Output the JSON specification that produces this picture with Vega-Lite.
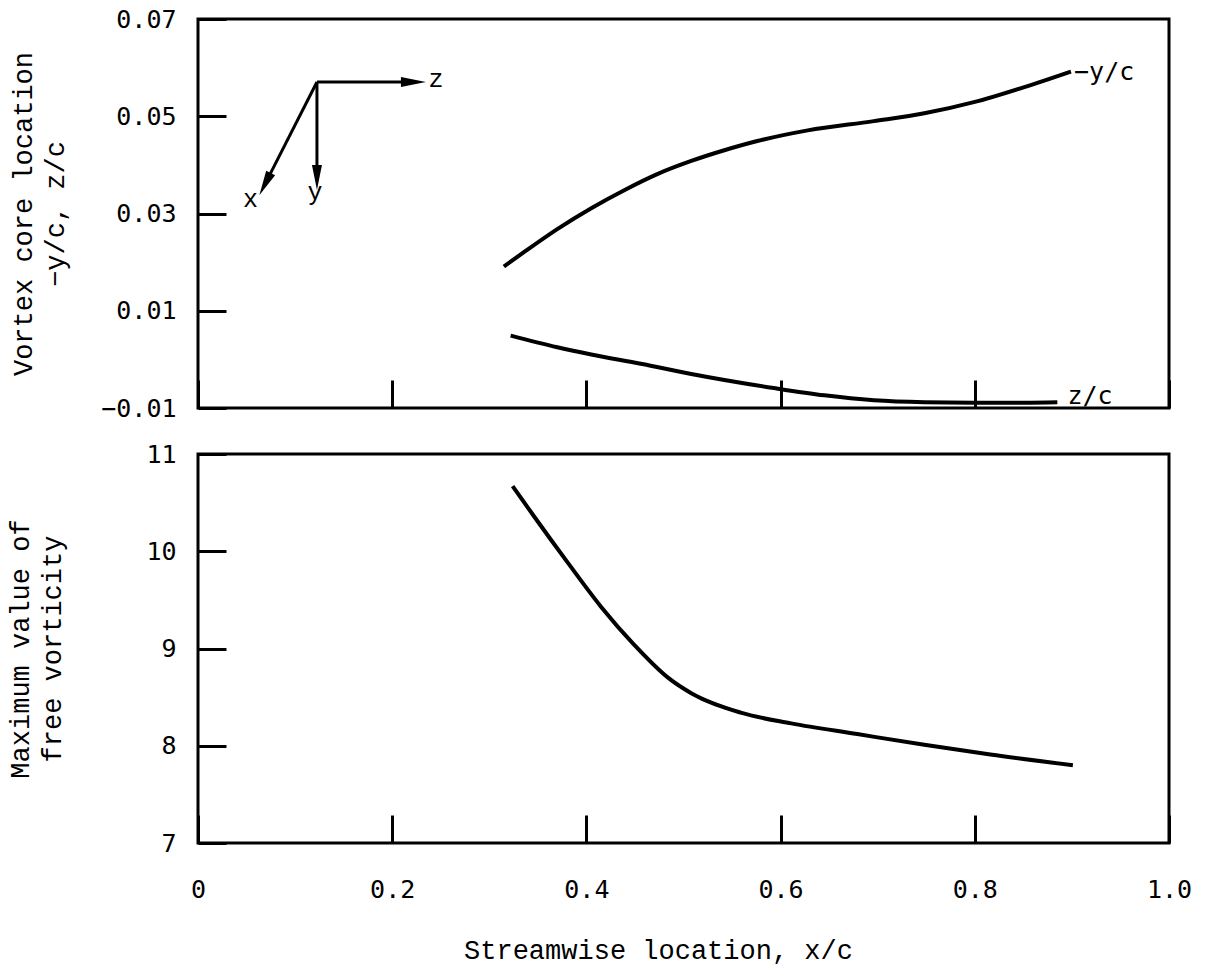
{
  "$schema": "https://vega.github.io/schema/vega-lite/v6.json",
  "background": "white",
  "padding": {"left": 5, "top": 5, "right": 5, "bottom": 5},
  "config": {
    "view": {"stroke": "black", "strokeWidth": 3},
    "axis": {
      "grid": false, "domain": false,
      "tickColor": "black", "tickWidth": 3, "tickSize": -28,
      "labelColor": "black", "labelFont": "DejaVu Sans Mono", "labelFontSize": 25,
      "titleFont": "Liberation Mono", "titleFontSize": 27, "titleFontWeight": "normal", "titleColor": "black",
      "labelFlush": false, "labelOverlap": false
    }
  },
  "datasets": {
    "core": [
      {"series": "-y/c", "x": 0.315, "y": 0.0191},
      {"series": "-y/c", "x": 0.336, "y": 0.0221},
      {"series": "-y/c", "x": 0.370, "y": 0.0268},
      {"series": "-y/c", "x": 0.405, "y": 0.0311},
      {"series": "-y/c", "x": 0.439, "y": 0.0348},
      {"series": "-y/c", "x": 0.473, "y": 0.0381},
      {"series": "-y/c", "x": 0.508, "y": 0.0408},
      {"series": "-y/c", "x": 0.542, "y": 0.0430},
      {"series": "-y/c", "x": 0.576, "y": 0.0449},
      {"series": "-y/c", "x": 0.628, "y": 0.0471},
      {"series": "-y/c", "x": 0.696, "y": 0.0490},
      {"series": "-y/c", "x": 0.748, "y": 0.0506},
      {"series": "-y/c", "x": 0.799, "y": 0.0529},
      {"series": "-y/c", "x": 0.851, "y": 0.0560},
      {"series": "-y/c", "x": 0.899, "y": 0.0592},
      {"series": "z/c", "x": 0.322, "y": 0.0049},
      {"series": "z/c", "x": 0.370, "y": 0.0025},
      {"series": "z/c", "x": 0.405, "y": 0.0010},
      {"series": "z/c", "x": 0.456, "y": -0.0009},
      {"series": "z/c", "x": 0.508, "y": -0.0030},
      {"series": "z/c", "x": 0.593, "y": -0.0059},
      {"series": "z/c", "x": 0.645, "y": -0.0074},
      {"series": "z/c", "x": 0.696, "y": -0.0084},
      {"series": "z/c", "x": 0.748, "y": -0.0088},
      {"series": "z/c", "x": 0.799, "y": -0.0089},
      {"series": "z/c", "x": 0.851, "y": -0.0089},
      {"series": "z/c", "x": 0.885, "y": -0.0088}
    ],
    "curveLabels": [
      {"t": "−y/c", "x": 0.9022, "y": 0.05745},
      {"t": "z/c", "x": 0.8954, "y": -0.00913}
    ],
    "axesRules": [
      {"axis": "z", "x": 0.1225, "y": 0.05704, "x2": 0.2219, "y2": 0.05704},
      {"axis": "y", "x": 0.1225, "y": 0.05704, "x2": 0.1225, "y2": 0.0374},
      {"axis": "x", "x": 0.1225, "y": 0.05704, "x2": 0.069, "y2": 0.03604}
    ],
    "heads": [
      {"axis": "z", "x": 0.2219, "y": 0.05704},
      {"axis": "y", "x": 0.1225, "y": 0.0374},
      {"axis": "x", "x": 0.069, "y": 0.03604}
    ],
    "letters": [
      {"t": "x", "x": 0.0540, "y": 0.03133},
      {"t": "y", "x": 0.1205, "y": 0.03277},
      {"t": "z", "x": 0.245, "y": 0.0560}
    ],
    "vort": [
      {"x": 0.324, "y": 10.67},
      {"x": 0.346, "y": 10.36},
      {"x": 0.381, "y": 9.88},
      {"x": 0.415, "y": 9.43},
      {"x": 0.449, "y": 9.04},
      {"x": 0.484, "y": 8.70},
      {"x": 0.508, "y": 8.54},
      {"x": 0.559, "y": 8.34},
      {"x": 0.611, "y": 8.23},
      {"x": 0.679, "y": 8.12},
      {"x": 0.748, "y": 8.01},
      {"x": 0.816, "y": 7.91},
      {"x": 0.901, "y": 7.80}
    ]
  },
  "spacing": 46,
  "bounds": "flush",
  "vconcat": [
    {
      "width": 971,
      "height": 389,
      "layer": [
        {
          "data": {"name": "core"},
          "mark": {"type": "line", "color": "black", "strokeWidth": 4, "interpolate": "monotone"},
          "encoding": {
            "x": {"field": "x", "type": "quantitative",
                  "scale": {"domain": [0, 1], "nice": false, "zero": false},
                  "axis": {"values": [0, 0.2, 0.4, 0.6, 0.8, 1.0], "labels": false, "title": null}},
            "y": {"field": "y", "type": "quantitative",
                  "scale": {"domain": [-0.01, 0.07], "nice": false, "zero": false},
                  "axis": {"values": [-0.01, 0.01, 0.03, 0.05, 0.07], "format": ".2f",
                           "title": ["Vortex core location", "−y/c, z/c"],
                           "labelPadding": 50, "titlePadding": 31, "titleLineHeight": 32}},
            "detail": {"field": "series", "type": "nominal"}
          }
        },
        {
          "data": {"name": "curveLabels"},
          "mark": {"type": "text", "align": "left", "baseline": "alphabetic", "font": "DejaVu Sans Mono", "fontSize": 25, "color": "black"},
          "encoding": {
            "x": {"field": "x", "type": "quantitative"},
            "y": {"field": "y", "type": "quantitative"},
            "text": {"field": "t"}
          }
        },
        {
          "data": {"name": "axesRules"},
          "mark": {"type": "rule", "color": "black", "strokeWidth": 3},
          "encoding": {
            "x": {"field": "x", "type": "quantitative"},
            "y": {"field": "y", "type": "quantitative"},
            "x2": {"field": "x2"},
            "y2": {"field": "y2"}
          }
        },
        {
          "data": {"name": "heads"},
          "transform": [{"filter": "datum.axis == 'z'"}],
          "mark": {"type": "point", "shape": "M0,-1L-0.4,1L0.4,1Z", "size": 625, "filled": true, "color": "black", "opacity": 1, "angle": 90},
          "encoding": {
            "x": {"field": "x", "type": "quantitative"},
            "y": {"field": "y", "type": "quantitative"}
          }
        },
        {
          "data": {"name": "heads"},
          "transform": [{"filter": "datum.axis == 'y'"}],
          "mark": {"type": "point", "shape": "M0,-1L-0.4,1L0.4,1Z", "size": 625, "filled": true, "color": "black", "opacity": 1, "angle": 180},
          "encoding": {
            "x": {"field": "x", "type": "quantitative"},
            "y": {"field": "y", "type": "quantitative"}
          }
        },
        {
          "data": {"name": "heads"},
          "transform": [{"filter": "datum.axis == 'x'"}],
          "mark": {"type": "point", "shape": "M0,-1L-0.4,1L0.4,1Z", "size": 625, "filled": true, "color": "black", "opacity": 1, "angle": 207},
          "encoding": {
            "x": {"field": "x", "type": "quantitative"},
            "y": {"field": "y", "type": "quantitative"}
          }
        },
        {
          "data": {"name": "letters"},
          "mark": {"type": "text", "align": "center", "baseline": "alphabetic", "font": "Liberation Mono", "fontSize": 25, "color": "black"},
          "encoding": {
            "x": {"field": "x", "type": "quantitative"},
            "y": {"field": "y", "type": "quantitative"},
            "text": {"field": "t"}
          }
        }
      ]
    },
    {
      "width": 971,
      "height": 389,
      "data": {"name": "vort"},
      "mark": {"type": "line", "color": "black", "strokeWidth": 4, "interpolate": "monotone"},
      "encoding": {
        "x": {"field": "x", "type": "quantitative",
              "scale": {"domain": [0, 1], "nice": false, "zero": false},
              "axis": {"values": [0, 0.2, 0.4, 0.6, 0.8, 1.0],
                       "labelExpr": "datum.value == 0 ? '0' : format(datum.value, '.1f')",
                       "title": "Streamwise location, x/c",
                       "labelPadding": 62, "titlePadding": 35, "titleX": 460}},
        "y": {"field": "y", "type": "quantitative",
              "scale": {"domain": [7, 11], "nice": false, "zero": false},
              "axis": {"values": [7, 8, 9, 10, 11],
                       "title": ["Maximum value of", "free vorticity"],
                       "labelPadding": 50, "titlePadding": 79, "titleLineHeight": 32}}
      }
    }
  ]
}
